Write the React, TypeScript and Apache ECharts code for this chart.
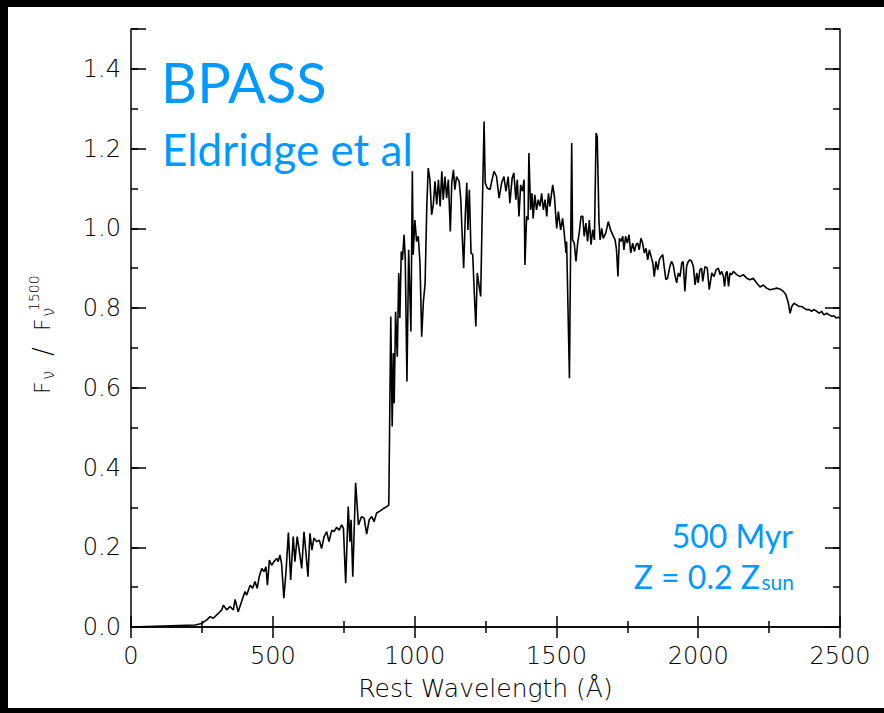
import React, { useEffect, useRef } from "react";
import * as echarts from "echarts";

// Rest wavelength (Å) and normalised flux F_nu / F_nu(1500)
const wavelength: number[] = [
  0, 226, 249, 267, 279, 290, 308, 320, 326, 337, 349, 361, 367, 378, 390, 402, 408, 420, 429, 437,
  445, 452, 461, 469, 476, 481, 488, 496, 504, 514, 519, 525, 531, 539, 547, 555, 563, 572, 578, 586,
  593, 602, 610, 617, 624, 631, 638, 645, 655, 664, 672, 681, 690, 698, 708, 716, 725, 734, 743, 749,
  757, 766, 772, 776, 782, 792, 802, 813, 822, 831, 840, 849, 857, 866, 876, 884, 892, 902, 909, 910,
  916, 921, 925, 928, 933, 939, 944, 948, 953, 957, 963, 967, 973, 979, 987, 992, 995, 1001, 1007, 1013,
  1019, 1025, 1031, 1037, 1043, 1048, 1054, 1060, 1066, 1072, 1078, 1084, 1090, 1096, 1101, 1107, 1113, 1119, 1126, 1131,
  1137, 1142, 1148, 1157, 1163, 1167, 1173, 1179, 1184, 1188, 1193, 1199, 1205, 1210, 1216, 1221, 1227, 1233, 1238, 1245,
  1249, 1256, 1266, 1272, 1280, 1289, 1298, 1307, 1315, 1322, 1330, 1336, 1344, 1350, 1357, 1362, 1368, 1374, 1380, 1386,
  1389, 1395, 1400, 1403, 1409, 1414, 1418, 1424, 1430, 1436, 1442, 1448, 1454, 1460, 1466, 1472, 1477, 1487, 1493, 1501,
  1507, 1515, 1522, 1527, 1534, 1536, 1541, 1546, 1549, 1554, 1557, 1563, 1569, 1575, 1581, 1587, 1593, 1598, 1604, 1610,
  1616, 1622, 1628, 1634, 1640, 1644, 1650, 1654, 1660, 1665, 1674, 1683, 1691, 1701, 1707, 1712, 1717, 1722, 1728, 1734,
  1738, 1744, 1750, 1756, 1762, 1769, 1775, 1781, 1787, 1792, 1798, 1804, 1810, 1816, 1822, 1828, 1834, 1840, 1845, 1851,
  1857, 1863, 1869, 1875, 1880, 1886, 1892, 1900, 1906, 1912, 1918, 1924, 1930, 1936, 1942, 1947, 1953, 1959, 1965, 1971,
  1977, 1983, 1989, 1995, 2000, 2006, 2012, 2016, 2024, 2032, 2039, 2048, 2056, 2063, 2071, 2077, 2083, 2089, 2093, 2098,
  2102, 2107, 2112, 2118, 2124, 2136, 2147, 2159, 2171, 2183, 2194, 2206, 2218, 2230, 2241, 2253, 2265, 2277, 2288, 2300,
  2309, 2318, 2324, 2330, 2338, 2347, 2356, 2365, 2373, 2382, 2392, 2400, 2408, 2418, 2427, 2435, 2443, 2453, 2462, 2471,
  2479, 2486, 2494, 2500,
];

const flux: number[] = [
  0, 0.005, 0.009, 0.018, 0.026, 0.022, 0.034, 0.043, 0.055, 0.043, 0.051, 0.043, 0.069, 0.038, 0.064, 0.089, 0.08, 0.105, 0.097, 0.114,
  0.097, 0.126, 0.147, 0.139, 0.151, 0.105, 0.168, 0.155, 0.164, 0.172, 0.164, 0.181, 0.159, 0.072, 0.143, 0.237, 0.118, 0.227, 0.164, 0.227,
  0.193, 0.147, 0.239, 0.185, 0.126, 0.235, 0.193, 0.223, 0.214, 0.218, 0.197, 0.227, 0.239, 0.214, 0.243, 0.239, 0.25, 0.243, 0.256, 0.248,
  0.11, 0.302, 0.214, 0.269, 0.126, 0.362, 0.256, 0.277, 0.273, 0.233, 0.269, 0.277, 0.264, 0.286, 0.29, 0.294, 0.298, 0.302, 0.306, 0.306,
  0.779, 0.503, 0.687, 0.561, 0.791, 0.678, 0.888, 0.775, 0.942, 0.921, 0.984, 0.925, 0.616, 0.946, 0.741, 1.143, 0.934, 1.021, 0.967, 0.98,
  0.913, 0.728, 0.816, 0.862, 1.055, 1.151, 1.122, 1.034, 1.06, 1.118, 1.06, 1.122, 1.055, 1.143, 1.072, 1.13, 1.076, 1.122, 0.992, 1.114,
  1.147, 1.097, 1.13, 1.118, 1.072, 0.996, 0.9, 1.038, 1.114, 0.996, 1.097, 0.938, 0.934, 0.846, 0.754, 0.888, 0.858, 0.829, 1.021, 1.268,
  1.114, 1.101, 1.097, 1.118, 1.143, 1.13, 1.076, 1.114, 1.13, 1.093, 1.13, 1.063, 1.126, 1.139, 1.072, 1.122, 1.03, 1.109, 1.093, 1.122,
  0.908, 1.03, 1.021, 1.189, 1.046, 1.088, 1.025, 1.084, 1.046, 1.072, 1.055, 1.088, 1.046, 1.072, 1.03, 1.088, 1.055, 1.109, 1.08, 1.0,
  1.042, 0.996, 1.025, 0.992, 0.938, 0.967, 0.795, 0.624, 0.867, 1.214, 0.971, 0.963, 0.917, 0.963, 0.992, 1.03, 1.03, 0.98, 1.013, 0.967,
  1.021, 0.959, 0.996, 0.971, 1.239, 1.23, 1.021, 0.971, 1.0, 0.975, 0.988, 1.017, 0.996, 0.98, 0.971, 0.946, 0.879, 0.975, 0.967, 0.98,
  0.946, 0.98, 0.963, 0.984, 0.938, 0.963, 0.942, 0.959, 0.963, 0.946, 0.975, 0.963, 0.938, 0.95, 0.921, 0.946, 0.929, 0.913, 0.879, 0.917,
  0.896, 0.921, 0.929, 0.934, 0.904, 0.871, 0.875, 0.904, 0.917, 0.908, 0.883, 0.863, 0.888, 0.879, 0.913, 0.917, 0.842, 0.904, 0.917, 0.921,
  0.917, 0.904, 0.858, 0.888, 0.863, 0.896, 0.9, 0.867, 0.904, 0.9, 0.846, 0.888, 0.879, 0.896, 0.9, 0.884, 0.892, 0.879, 0.854, 0.888,
  0.892, 0.854, 0.888, 0.884, 0.892, 0.884, 0.879, 0.884, 0.875, 0.871, 0.875, 0.863, 0.853, 0.858, 0.85, 0.846, 0.848, 0.85, 0.848, 0.842,
  0.834, 0.812, 0.787, 0.804, 0.812, 0.808, 0.804, 0.804, 0.8, 0.796, 0.796, 0.792, 0.796, 0.792, 0.787, 0.792, 0.783, 0.787, 0.783, 0.779,
  0.781, 0.775, 0.777, 0.775,
];

const xTicks = { min: 0, max: 2500, major: 500 };
const yTicks = { min: 0, max: 1.5, major: 0.2, minor: 0.1 };
const xTitle = "Rest Wavelength (Å)";
const titleLines = ["BPASS", "Eldridge et al"];
const noteLines = ["500 Myr", "Z = 0.2 Z", "sun"];

const BLUE = "#0099ff";
const AXIS_FONT = "DejaVu Sans";
const BLUE_FONT = "Lato";

export default function App() {
  const ref = useRef<HTMLDivElement>(null);

  useEffect(() => {
    if (!ref.current) return;
    const chart = echarts.init(ref.current, null, { renderer: "svg", width: 884, height: 713 });
    const data = wavelength.map((w, i) => [w, flux[i]]);
    const line = { color: "#000", width: 1.5 };
    const labelStyle = { fontFamily: AXIS_FONT, fontSize: 24, color: "#000", fontWeight: 300 as any };

    const baseX = {
      type: "value" as const,
      min: xTicks.min,
      max: xTicks.max,
      interval: xTicks.major,
      splitLine: { show: false },
      axisLine: { show: true, lineStyle: line },
      axisTick: { show: true, inside: true, length: 11, lineStyle: line },
      minorTick: { show: true, splitNumber: 2, length: 6, lineStyle: line },
    };
    const baseY = (interval: number, len: number, position: "left" | "right", showLine: boolean) => ({
      type: "value" as const,
      min: yTicks.min,
      max: yTicks.max,
      interval,
      position,
      splitLine: { show: false },
      axisLine: { show: showLine, lineStyle: line },
      axisTick: { show: true, inside: true, length: len, lineStyle: line },
      axisLabel: { show: false },
    });

    const titleText = (text: string, x: number, y: number, fontSize: number) => ({
      type: "text",
      x,
      y,
      rotation: Math.PI / 2,
      style: { text, fill: "#000", fontFamily: AXIS_FONT, fontSize, fontWeight: 300, align: "left", verticalAlign: "middle" },
    });

    const option: any = {
      animation: false,
      backgroundColor: "transparent",
      grid: { left: 131, top: 29, width: 709, height: 598, containLabel: false },
      xAxis: [
        {
          ...baseX,
          position: "bottom",
          axisLabel: { ...labelStyle, margin: 17, formatter: (v: number) => String(v) },
          name: xTitle,
          nameLocation: "middle",
          nameGap: 49,
          nameTextStyle: { ...labelStyle, fontSize: 25 },
        },
        { ...baseX, position: "top", axisLabel: { show: false } },
      ],
      yAxis: [
        {
          ...baseY(yTicks.major, 15, "left", true),
          axisLabel: {
            ...labelStyle,
            margin: 10,
            formatter: (v: number) => (v > yTicks.max - 0.05 ? "" : v.toFixed(1)),
          },
        },
        baseY(yTicks.minor, 7, "left", false),
        baseY(yTicks.major, 15, "right", true),
        baseY(yTicks.minor, 7, "right", false),
      ],
      series: [
        {
          type: "line",
          data,
          xAxisIndex: 0,
          yAxisIndex: 0,
          showSymbol: false,
          symbol: "none",
          lineStyle: { color: "#000", width: 1.6 },
          clip: true,
        },
      ],
      graphic: [
        {
          type: "text",
          x: 161,
          y: 81,
          style: { text: titleLines[0], fill: BLUE, fontFamily: BLUE_FONT, fontSize: 56, align: "left", verticalAlign: "middle" },
        },
        {
          type: "text",
          x: 162,
          y: 149,
          style: { text: titleLines[1], fill: BLUE, fontFamily: BLUE_FONT, fontSize: 44, align: "left", verticalAlign: "middle" },
        },
        {
          type: "text",
          x: 793,
          y: 535,
          style: { text: noteLines[0], fill: BLUE, fontFamily: BLUE_FONT, fontSize: 32, align: "right", verticalAlign: "middle" },
        },
        {
          type: "text",
          x: 760,
          y: 576,
          style: { text: noteLines[1], fill: BLUE, fontFamily: BLUE_FONT, fontSize: 32, align: "right", verticalAlign: "middle" },
        },
        {
          type: "text",
          x: 794,
          y: 581,
          style: { text: noteLines[2], fill: BLUE, fontFamily: BLUE_FONT, fontSize: 21, align: "right", verticalAlign: "middle" },
        },
        // rotated y-axis title: F_nu / F_nu^1500
        titleText("F", 42, 394, 22),
        titleText("ν", 48, 380, 17),
        titleText("/", 43, 356, 26),
        titleText("F", 42, 331, 22),
        titleText("ν", 48, 317, 17),
        titleText("1500", 34, 311, 14),
      ],
    };
    chart.setOption(option);
    return () => chart.dispose();
  }, []);

  return (
    <div style={{ position: "fixed", left: 0, top: 0, width: 884, height: 713, background: "#000", overflow: "hidden" }}>
      <div style={{ position: "absolute", left: 8, top: 7, width: 876, height: 701, background: "#fff" }} />
      <div ref={ref} style={{ position: "absolute", left: 0, top: 0, width: 884, height: 713 }} />
    </div>
  );
}
